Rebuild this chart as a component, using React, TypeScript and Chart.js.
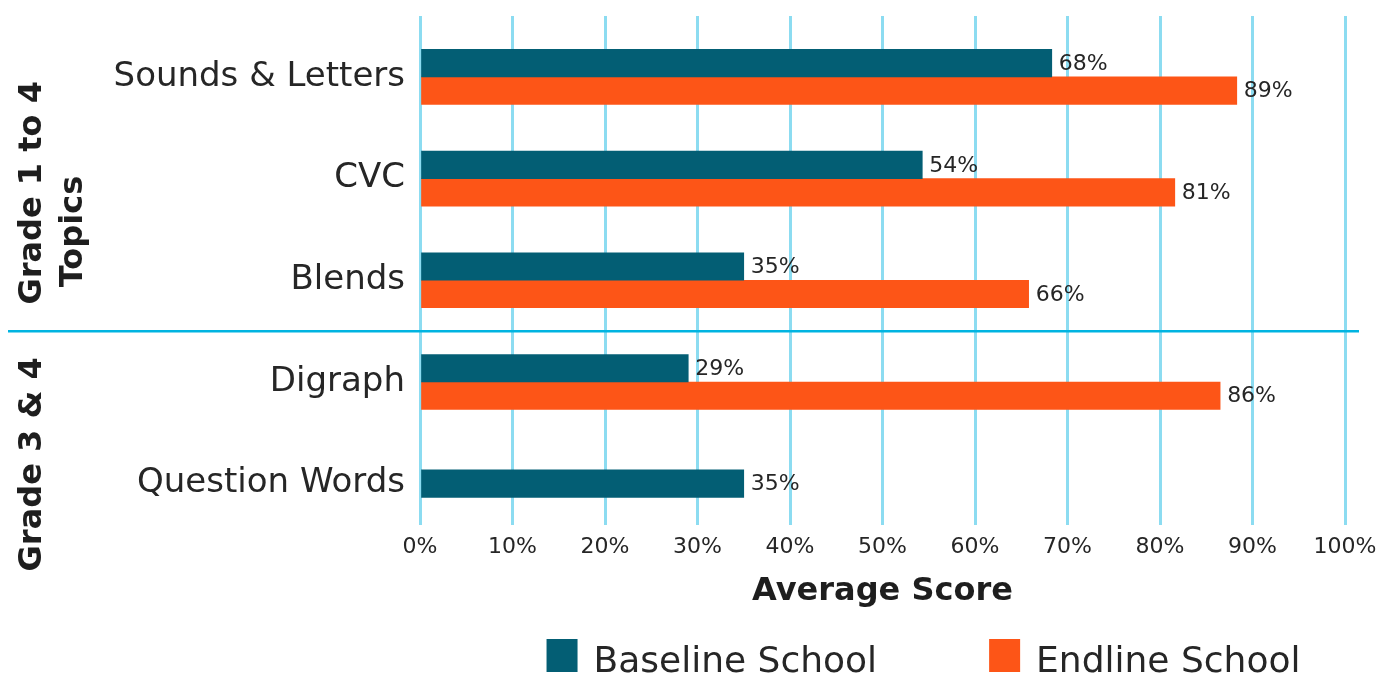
import React, { useEffect, useRef } from 'react';
import { Chart, registerables } from 'chart.js';

Chart.register(...registerables);

// ---- data ----
const topics = ['Sounds & Letters', 'CVC', 'Blends', 'Digraph', 'Question Words'];
const baselineScores: (number | null)[] = [68.3, 54.3, 35, 29, 35];
const endlineScores: (number | null)[] = [88.3, 81.6, 65.8, 86.5, null];
const baselineLabels = ['68%', '54%', '35%', '29%', '35%'];
const endlineLabels = ['89%', '81%', '66%', '86%', ''];
const seriesNames = ['Baseline School', 'Endline School'];
const seriesColors = ['#035E74', '#FD5517'];
const groupLabels = [
  { lines: ['Grade 1 to 4', 'Topics'], centers: [1.14, 1.52] },
  { lines: ['Grade 3 & 4'], centers: [3.81] },
];
const groupBoundary = 2.5;
const axisTitle = 'Average Score';

// ---- style ----
const FONT = '"DejaVu Sans", sans-serif';
const TEXT = '#262626';
const GRID = '#8CDCF1';
const SEPARATOR = '#00B4E1';

const annotatePlugin = {
  id: 'annotate',
  afterDatasetsDraw(chart: any) {
    const ctx = chart.ctx as CanvasRenderingContext2D;
    const area = chart.chartArea;
    const yScale = chart.scales.y;
    ctx.save();

    // value labels
    ctx.font = `22px ${FONT}`;
    ctx.fillStyle = TEXT;
    ctx.textAlign = 'left';
    ctx.textBaseline = 'middle';
    [baselineLabels, endlineLabels].forEach((labels, di) => {
      const meta = chart.getDatasetMeta(di);
      meta.data.forEach((bar: any, i: number) => {
        const v = chart.data.datasets[di].data[i].x;
        if (v === null || v === undefined) return;
        ctx.fillText(labels[i], bar.x + 7, bar.y + 1);
      });
    });

    // separator between groups
    const sy = yScale.getPixelForValue(groupBoundary);
    ctx.strokeStyle = SEPARATOR;
    ctx.lineWidth = 2.5;
    ctx.beginPath();
    ctx.moveTo(8, sy);
    ctx.lineTo(area.right + 14, sy);
    ctx.stroke();

    // group labels (rotated)
    ctx.font = `bold 32px ${FONT}`;
    ctx.fillStyle = '#1E1E1E';
    ctx.textAlign = 'center';
    ctx.textBaseline = 'alphabetic';
    groupLabels.forEach((g) => {
      g.lines.forEach((line, li) => {
        const cy = yScale.getPixelForValue(g.centers[li]);
        const bx = 41 + li * 41;
        ctx.save();
        ctx.translate(bx, cy);
        ctx.rotate(-Math.PI / 2);
        ctx.fillText(line, 0, 0);
        ctx.restore();
      });
    });

    // legend
    ctx.font = `36px ${FONT}`;
    ctx.textAlign = 'left';
    ctx.textBaseline = 'alphabetic';
    const box = 31;
    const gap = 16;
    const itemGap = 112;
    const widths = seriesNames.map((n) => ctx.measureText(n).width);
    const total = widths.reduce((a, w) => a + box + gap + w, 0) + itemGap * (seriesNames.length - 1);
    let lx = (area.left + area.right) / 2 + 41 - total / 2;
    const baseY = 672;
    seriesNames.forEach((name, i) => {
      ctx.fillStyle = seriesColors[i];
      ctx.fillRect(lx, baseY - 33, box, 33);
      ctx.fillStyle = TEXT;
      ctx.fillText(name, lx + box + gap, baseY);
      lx += box + gap + widths[i] + itemGap;
    });

    ctx.restore();
  },
};

export default function App() {
  const canvasRef = useRef<HTMLCanvasElement | null>(null);

  useEffect(() => {
    if (!canvasRef.current) return;
    const chart = new Chart(canvasRef.current, {
      type: 'bar',
      data: {
        datasets: seriesNames.map((name, di) => ({
          label: name,
          data: [baselineScores, endlineScores][di].map((v, i) => ({ x: v, y: i })),
          backgroundColor: seriesColors[di],
          barThickness: 27.5,
          skipNull: true,
        })) as any,
      },
      options: {
        indexAxis: 'y',
        animation: false,
        responsive: true,
        maintainAspectRatio: false,
        layout: { padding: { left: 0, right: 42, top: 16, bottom: 0 } },
        plugins: {
          legend: { display: false },
          tooltip: { enabled: false },
        },
        datasets: { bar: { skipNull: true } as any },
        scales: {
          x: {
            type: 'linear',
            position: 'bottom',
            min: 0,
            max: 100,
            ticks: {
              stepSize: 10,
              callback: (v: any) => `${v}%`,
              font: { family: FONT, size: 22 },
              color: TEXT,
              padding: 9,
              maxRotation: 0,
            },
            grid: { color: GRID, lineWidth: 3, tickLength: 15, drawTicks: true },
            border: { display: false },
            title: {
              display: true,
              text: axisTitle,
              font: { family: FONT, size: 32, weight: 'bold' },
              color: '#1E1E1E',
              padding: { top: 0, bottom: 64 },
            },
            afterFit: (s: any) => {
              s.height = 165;
            },
          },
          y: {
            type: 'linear',
            reverse: true,
            offset: false,
            min: -0.599,
            max: 4.259,
            afterBuildTicks: (s: any) => {
              s.ticks = topics.map((_, i) => ({ value: i }));
            },
            ticks: {
              callback: (v: any) => topics[v] ?? '',
              font: { family: FONT, size: 34 },
              color: TEXT,
              padding: 15,
              autoSkip: false,
            },
            grid: { display: false, drawTicks: false, offset: false },
            border: { display: false },
            afterFit: (s: any) => {
              s.width = 420;
              s.paddingTop = 0;
              s.paddingBottom = 0;
            },
          },
        },
      } as any,
      plugins: [annotatePlugin],
    });
    return () => chart.destroy();
  }, []);

  return (
    <div style={{ position: 'fixed', left: 0, top: 0, width: 1387, height: 675, background: '#fff' }}>
      <canvas ref={canvasRef} />
    </div>
  );
}
